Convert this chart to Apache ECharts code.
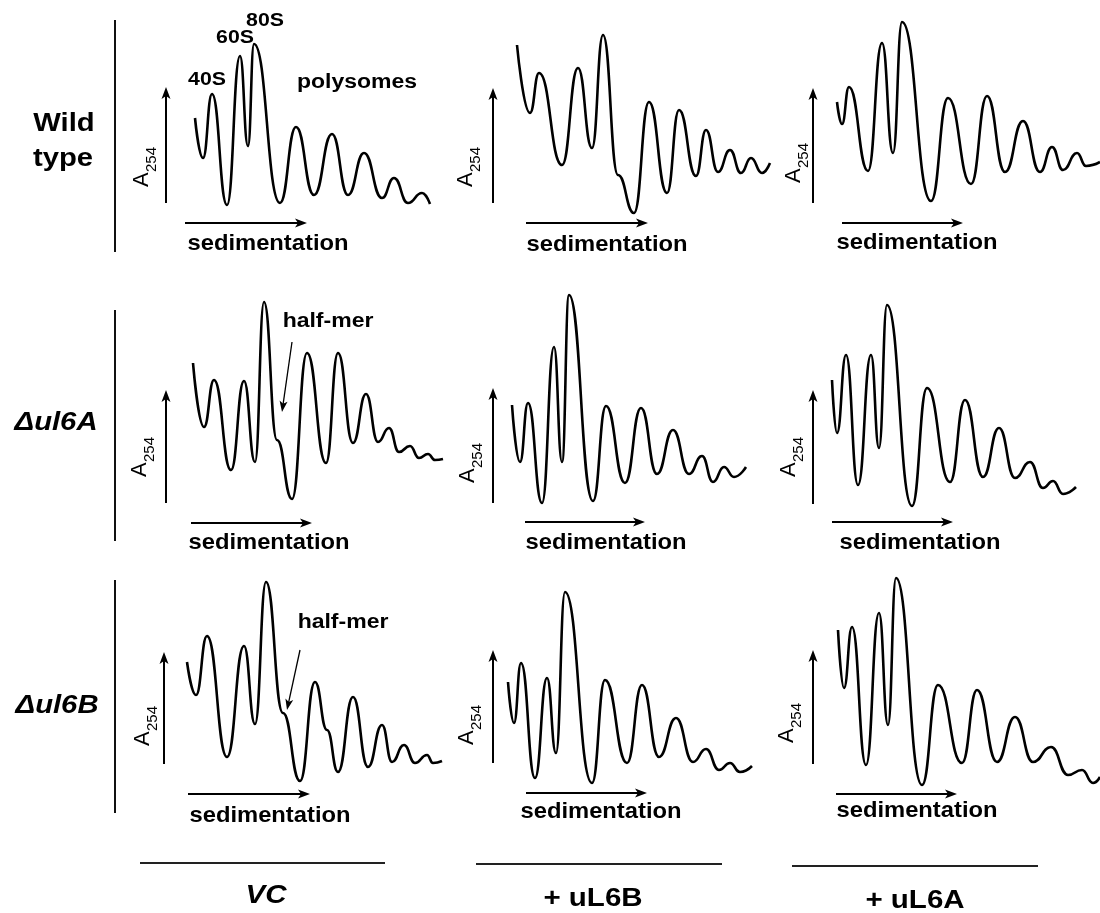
<!DOCTYPE html>
<html><head><meta charset="utf-8">
<script src="https://cdn.jsdelivr.net/npm/echarts@6/dist/echarts.min.js"></script>
<style>html,body{margin:0;padding:0;background:#fff}#c{width:1100px;height:913px}</style>
</head><body><div id="c"></div>
<script>
// ---- Data: [sedimentation position, A254 (arbitrary units)] ----
const wtVC = [[5,53.5],[9,33.5],[13.5,65.5],[21,10],[27.5,84.5],[31.5,39.5],[34.5,90.5],[47.5,11],[55.5,49],[64.5,15],[73.5,45.5],[81.5,15],[89.5,36],[98.5,13.5],[104.5,23.5],[111.5,11],[118.5,16],[122.5,10.5]];
const wtL6B = [[6,90],[12.5,56],[17,76],[28.5,30],[36.5,78.5],[43.5,38.5],[49,95],[56.5,25],[64.5,6],[72,61.5],[81,16],[87,57.5],[95.5,24.5],[100.5,47.5],[106.5,26.5],[112.5,37.5],[118,26],[123,33.5],[128.5,26],[132.5,31]];
const wtL6A = [[3.5,61.5],[6,50.5],[9.5,69],[19,27],[26,91],[31.5,36],[36,101.5],[50.5,12],[59,63.5],[70.5,20.5],[78.5,64.5],[87.5,26.5],[96.5,52],[105,26.5],[111,39],[116.5,27.5],[123.5,36],[128,29.5],[135,31.5]];
const aVC = [[4,76],[9.5,44],[14.5,67.5],[23,22.5],[29.5,67],[35,26.5],[39.5,106.5],[46,37.5],[53.5,8],[61,81],[70.5,26],[76.5,81],[84,36],[90.5,60.5],[96.5,36.5],[102,43.5],[107,31.5],[112.5,34.5],[117,28.5],[121.5,30.5],[125,27.5],[129,28]];
const aL6B = [[3.5,55],[7.5,26.5],[11.5,56],[18.5,6],[24.5,84],[28.5,26.5],[32,110],[44,7],[50.5,54.5],[60,16],[68,53.5],[76,20.5],[84,42.5],[92,20.5],[98.5,29.5],[104,16.5],[109.5,24],[114.5,19],[120.5,24]];
const aL6A = [[1,67.5],[3.5,41],[8,80],[14,15],[20.5,80],[24.5,33.5],[28.5,105],[41,4.5],[48.5,63.5],[60,16.5],[67.5,57.5],[76.5,19],[84.5,43.5],[92.5,18.5],[100,26.5],[106.5,13.5],[111.5,17],[116.5,10.5],[123,14]];
const bVC = [[1,66.5],[5.5,50],[11,79.5],[21,19],[29.5,74.5],[35,35.5],[40.5,106.5],[49,41],[57.5,7],[65,56.5],[71,32.5],[76.5,11.5],[84,49],[91.5,14],[98.5,35],[103.5,16.5],[109.5,25],[115,16],[121,20],[124,16],[128.5,17]];
const bL6B = [[1.5,56.5],[4.5,36],[8,66],[15,8.5],[21,58.5],[25.5,21],[30,101.5],[43.5,6],[50,57.5],[61,16],[68.5,55],[77,19],[85.5,38.5],[94,16.5],[100.5,23],[107,12.5],[112.5,16],[117.5,11.5],[123.5,14.5]];
const bL6A = [[4,82.5],[7,53.5],[11,84],[18,15],[24.5,91],[29,35],[33,108.5],[46,5],[54,55],[66,16],[73.5,52.5],[83.5,16.5],[92.5,39],[101.5,16.5],[110.5,24],[119,10],[126,12.5],[131.5,6],[135,9]];

const rowLabels = [['Wild', 'type'], ['Δul6A'], ['Δul6B']];
const colLabels = ['VC', '+ uL6B', '+ uL6A'];
const peakLabels = ['40S', '60S', '80S', 'polysomes'];
const axisY = 'A', axisYSub = '254', axisX = 'sedimentation', halfMer = 'half-mer';

// ---- Layout ----
const panels = [
  {row:0,col:0,data:wtVC},{row:0,col:1,data:wtL6B},{row:0,col:2,data:wtL6A},
  {row:1,col:0,data:aVC},{row:1,col:1,data:aL6B},{row:1,col:2,data:aL6A},
  {row:2,col:0,data:bVC},{row:2,col:1,data:bL6B},{row:2,col:2,data:bL6A}
];
const colX0 = [185, 505, 830], rowY0 = [225, 515, 795], GW = 270, GH = 220;
const yArrow = [[166,87,203],[493,88,203],[813,88,203],[166,390,503],[493,388,503],[813,390,504],[164,652,764],[493,650,763],[813,650,764]];
const sedArrow = [[223,185,307],[223,526,648],[223,842,963],[523,191,312],[522,525,645],[522,832,953],[794,188,310],[793,526,647],[794,836,957]];
const sedText = [[268,244],[607,245],[917,243],[269,543],[606,543],[920,543],[270,816],[601,812],[917,811]];
const aLab = [[142,187],[466,187],[794,183],[140,477],[468,483],[789,477],[143,746],[467,745],[787,743]];
const FF = '"Liberation Sans", Arial, sans-serif';

const grids = [], xAxes = [], yAxes = [], series = [];
panels.forEach((p, i) => {
  grids.push({left: colX0[p.col], top: rowY0[p.row] - GH, width: GW, height: GH, containLabel: false});
  xAxes.push({type:'value', gridIndex:i, min:0, max:135, show:false});
  yAxes.push({type:'value', gridIndex:i, min:0, max:110, show:false});
  series.push({type:'line', xAxisIndex:i, yAxisIndex:i, data:p.data, smooth:0.5, smoothMonotone:'x',
    symbol:'none', clip:false, lineStyle:{color:'#000', width:2.6}, silent:true, animation:false});
});

function arrow(x1, y1, x2, y2, lw, L, W) {
  const a = Math.atan2(y2 - y1, x2 - x1);
  const bx = x2 - L * Math.cos(a), by = y2 - L * Math.sin(a);
  const px = -Math.sin(a) * W, py = Math.cos(a) * W;
  return [
    {type:'line', shape:{x1, y1, x2: bx + (x2-bx)*0.3, y2: by + (y2-by)*0.3}, style:{stroke:'#000', lineWidth:lw}},
    {type:'polygon', shape:{points:[[x2,y2],[bx+px,by+py],[bx+(x2-bx)*0.25,by+(y2-by)*0.25],[bx-px,by-py]]}, style:{fill:'#000'}}
  ];
}
function txt(t, x, y, size, opt) {
  opt = opt || {};
  return {type:'text', x, y, scaleX: opt.sx || 1.12, style:{text:t, x:0, y:0, fill:'#000',
    font:(opt.italic ? 'italic ' : '') + 'bold ' + size + 'px ' + FF,
    align:'center', verticalAlign:'middle', textAlign:'center', textVerticalAlign:'middle'}};
}

const g = [];
// left separators
[[20,252],[310,541],[580,813]].forEach(s => g.push({type:'line', shape:{x1:115,y1:s[0],x2:115,y2:s[1]}, style:{stroke:'#111', lineWidth:2}}));
// row labels
g.push(txt(rowLabels[0][0], 64, 124, 25, {sx:1.17}));
g.push(txt(rowLabels[0][1], 63, 159, 25, {sx:1.17}));
g.push(txt(rowLabels[1][0], 56, 423, 25, {sx:1.17, italic:true}));
g.push(txt(rowLabels[2][0], 57, 706, 25, {sx:1.17, italic:true}));
// bottom lines and labels
[[140,385,863],[476,722,864],[792,1038,866]].forEach(s => g.push({type:'line', shape:{x1:s[0],y1:s[2],x2:s[1],y2:s[2]}, style:{stroke:'#222', lineWidth:1.8}}));
g.push(txt(colLabels[0], 266, 896, 25, {sx:1.18, italic:true}));
g.push(txt(colLabels[1], 593, 899, 25, {sx:1.18}));
g.push(txt(colLabels[2], 915, 901, 25, {sx:1.18}));
// per-panel axes annotations
panels.forEach((p, i) => {
  const ya = yArrow[i], sa = sedArrow[i], st = sedText[i], al = aLab[i];
  g.push(...arrow(ya[0], ya[2], ya[0], ya[1], 2, 12, 4.5));
  g.push(...arrow(sa[1], sa[0], sa[2], sa[0], 2, 12, 4.5));
  g.push(txt(axisX, st[0], st[1], 22, {sx:1.08}));
  g.push({type:'group', x:al[0], y:al[1], rotation:Math.PI/2, children:[
    {type:'text', style:{text:axisY, x:0, y:0, font:'22px ' + FF, fill:'#000', align:'left', verticalAlign:'middle', textAlign:'left', textVerticalAlign:'middle'}},
    {type:'text', style:{text:axisYSub, x:15, y:10, font:'15px ' + FF, fill:'#000', align:'left', verticalAlign:'middle', textAlign:'left', textVerticalAlign:'middle'}}
  ]});
});
// peak labels (wild type, VC)
g.push(txt(peakLabels[0], 207, 80, 19));
g.push(txt(peakLabels[1], 235, 38, 19));
g.push(txt(peakLabels[2], 265, 21, 19));
g.push(txt(peakLabels[3], 357, 82, 20, {sx:1.15}));
// half-mer annotations
g.push(txt(halfMer, 328, 321, 20, {sx:1.15}));
g.push(...arrow(292, 342, 282, 412, 1.3, 11, 4));
g.push(txt(halfMer, 343, 622, 20, {sx:1.15}));
g.push(...arrow(300, 650, 287, 710, 1.3, 11, 4));

const chart = echarts.init(document.getElementById('c'), null, {renderer:'canvas'});
chart.setOption({
  backgroundColor:'#fff', animation:false,
  grid: grids, xAxis: xAxes, yAxis: yAxes, series: series,
  graphic: {elements: g}
});
</script></body></html>
